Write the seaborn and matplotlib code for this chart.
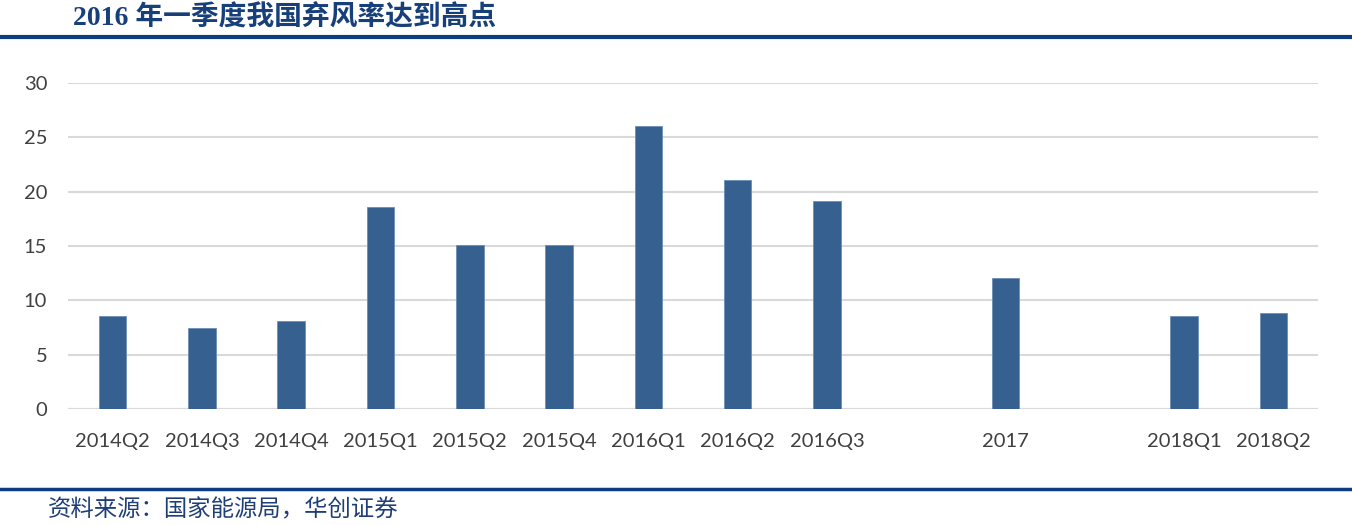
"""
2016 Q1 wind curtailment peak - bar chart
"""

import matplotlib.pyplot as plt
import pandas as pd
import seaborn as sns

# data
periods = ["2014Q2", "2014Q3", "2014Q4", "2015Q1", "2015Q2", "2015Q4",
           "2016Q1", "2016Q2", "2016Q3", "2017", "2018Q1", "2018Q2"]
rates = [8.6, 7.5, 8.1, 18.6, 15.1, 15.1, 26.0, 21.1, 19.1, 12.1, 8.6, 8.8]
# slot order on the axis, with two empty gap slots
slotOrder = ["2014Q2", "2014Q3", "2014Q4", "2015Q1", "2015Q2", "2015Q4",
             "2016Q1", "2016Q2", "2016Q3", "gap1", "2017", "gap2",
             "2018Q1", "2018Q2"]
slotLabels = ["" if s.startswith("gap") else s for s in slotOrder]
yTicks = [0, 5, 10, 15, 20, 25, 30]

title = "2016 年一季度我国弃风率达到高点"
source = "资料来源：国家能源局，华创证券"

df = pd.DataFrame({"period": periods, "rate": rates})

sns.set_theme(style="white")
plt.rcParams["font.family"] = ["Lato", "Noto Sans CJK SC", "DejaVu Sans"]

fig = plt.figure(figsize=(13.52, 5.25), dpi=100)
ax = fig.add_axes([68 / 1352, 116 / 525, 1250 / 1352, 326 / 525])

sns.barplot(data=df, x="period", y="rate", order=slotOrder,
            color="#36608F", saturation=1, width=0.31, ax=ax,
            edgecolor="#6C8DB5", linewidth=0.6)

ax.set_xlim(-0.5, len(slotOrder) - 0.5)
ax.set_ylim(0, 30)
ax.set_yticks(yTicks)
ax.set_xticks(range(len(slotOrder)))
ax.set_xticklabels(slotLabels)
ax.set_xlabel("")
ax.set_ylabel("")
ax.yaxis.grid(True, color="#D9D9D9", linewidth=1.5)
ax.set_axisbelow(True)
for s in ax.spines.values():
    s.set_visible(False)
ax.axhline(0, color="#D9D9D9", linewidth=1.5, zorder=0)
ax.tick_params(axis="both", length=0, labelsize=14.5, labelcolor="#404040")
ax.tick_params(axis="y", pad=15)
ax.tick_params(axis="x", pad=17)

# header and footer
fig.text(73 / 1352, 1 - 18 / 525, title, ha="left", va="center",
         fontsize=20, fontweight="bold", color="#17407A",
         family=["Liberation Serif", "Noto Sans CJK SC"])
fig.add_artist(plt.Line2D([0, 1], [1 - 37 / 525] * 2, color="#0B3D80",
                          linewidth=3, transform=fig.transFigure))
fig.add_artist(plt.Line2D([0, 1], [1 - 489 / 525] * 2, color="#0B3D80",
                          linewidth=2.5, transform=fig.transFigure))
fig.text(48 / 1352, 1 - 510 / 525, source, ha="left", va="center",
         fontsize=16.8, style="italic", color="#1F3E78",
         family=["Noto Sans CJK SC", "DejaVu Sans"])

fig.savefig("out.png", dpi=100)
